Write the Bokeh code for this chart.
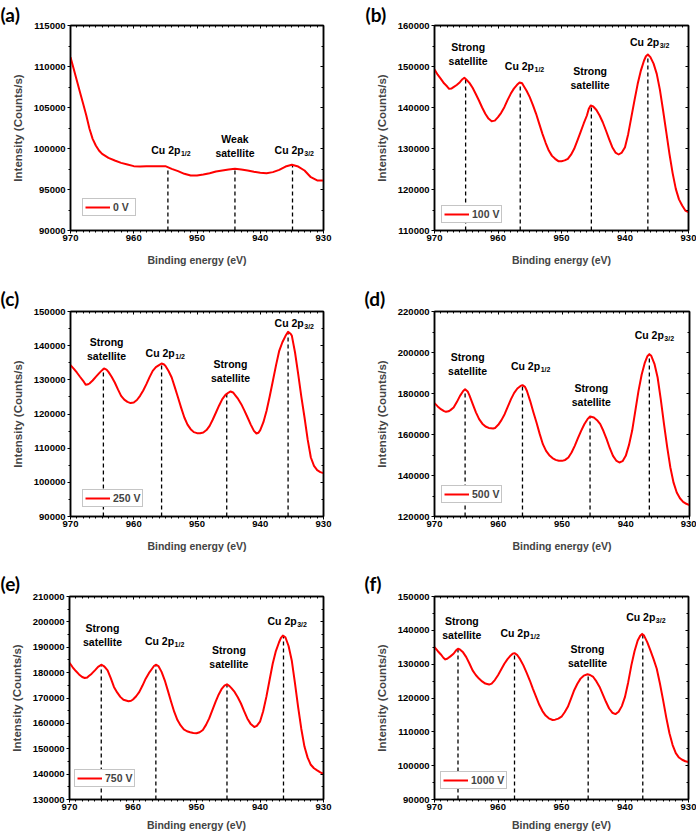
from bokeh.plotting import figure
from bokeh.layouts import column, row
from bokeh.models import Range1d, FixedTicker, LinearAxis, BasicTickFormatter
from bokeh.core.properties import value
from bokeh.embed import file_html
from bokeh.resources import INLINE

# ---------------- data ----------------
x_ticks = [970, 960, 950, 940, 930]
x_minor = list(range(930, 971))

# (a) 0 V
energy_a = [970, 969.5, 969, 968.5, 968, 967.5, 967, 966.5, 966, 965.5, 965, 964, 963, 962, 961, 960,
            959, 958, 957, 956, 955, 954, 953, 952, 951, 950, 949, 948, 947, 946, 945, 944, 943, 942,
            941, 940, 939, 938, 937, 936, 935, 934, 933, 932, 931, 930]
intensity_a = [111140, 109720, 108290, 106870, 105450, 104020, 102400, 101180, 100370, 99760, 99350,
               98860, 98540, 98250, 98050, 97850, 97800, 97850, 97850, 97850, 97850, 97520, 97240,
               96910, 96710, 96710, 96830, 96990, 97200, 97320, 97440, 97520, 97440, 97320, 97160,
               97030, 96990, 97120, 97400, 97800, 98010, 97800, 97320, 96500, 96100, 96100]
peak_e_a = [954.6, 944.0, 934.9]
peak_i_a = [97700, 97500, 98000]
yticks_a = [90000, 95000, 100000, 105000, 110000, 115000]

# (b) 100 V
energy_b = [970, 969.5, 969, 968.5, 968, 967.7, 967.3, 967, 966.5, 966, 965.6, 965.3, 965, 964.5, 964,
            963.5, 963, 962.5, 962, 961.5, 961, 960.5, 960, 959.5, 959, 958.5, 958, 957.5, 957, 956.6,
            956.2, 956, 955.5, 955, 954.5, 954, 953.5, 953, 952.5, 952, 951.5, 951, 950.5, 950, 949.5,
            949, 948.5, 948, 947.5, 947, 946.5, 946, 945.7, 945.4, 945, 944.5, 944, 943.5, 943, 942.5,
            942, 941.5, 941, 940.5, 940, 939.5, 939, 938.5, 938, 937.5, 937, 936.7, 936.4, 936, 935.5,
            935, 934.5, 934, 933.5, 933, 932.5, 932, 931.5, 931, 930.5, 930]
intensity_b = [149270, 148000, 147000, 145900, 145120, 144550, 144650, 144960, 145500, 146180, 146900,
               147240, 146830, 146000, 144800, 143300, 141700, 140000, 138460, 137300, 136670, 136800,
               137640, 138700, 140080, 141800, 143330, 144600, 145530, 146100, 145900, 145370, 144100,
               142520, 140600, 138460, 136000, 133580, 131400, 129510, 128200, 127480, 126910, 126910,
               127100, 127480, 128500, 129920, 131900, 134000, 136100, 138050, 139700, 140490, 140240,
               139400, 138050, 136400, 134390, 132300, 130330, 129000, 128540, 129000, 130330, 133500,
               137640, 141800, 145770, 149000, 151460, 152500, 152930, 152280, 150700, 148210, 144300,
               139270, 134000, 128700, 124000, 120160, 117600, 116100, 114880, 114470]
peak_e_b = [965.1, 956.5, 945.3, 936.4]
peak_i_b = [147200, 146100, 140500, 152900]
yticks_b = [110000, 120000, 130000, 140000, 150000, 160000]

# (c) 250 V
energy_c = [970, 969.5, 969, 968.5, 968, 967.6, 967.2, 967, 966.5, 966, 965.5, 965, 964.7, 964.3, 964,
            963.5, 963, 962.5, 962, 961.5, 961, 960.5, 960, 959.5, 959, 958.5, 958, 957.5, 957, 956.5,
            956, 955.6, 955.2, 955, 954.5, 954, 953.5, 953, 952.5, 952, 951.5, 951, 950.5, 950, 949.5,
            949, 948.5, 948, 947.5, 947, 946.5, 946, 945.5, 945, 944.7, 944.3, 944, 943.5, 943, 942.5,
            942, 941.5, 941, 940.6, 940.3, 940, 939.5, 939, 938.5, 938, 937.5, 937, 936.5, 936, 935.6,
            935.2, 935, 934.5, 934, 933.5, 933, 932.5, 932, 931.5, 931, 930.5, 930]
intensity_c = [134290, 133300, 132150, 130900, 129710, 128540, 128700, 128930, 129800, 130880, 131900,
               132830, 133320, 133000, 132340, 130900, 129220, 127200, 125320, 124200, 123560, 123200,
               123370, 124100, 125320, 126900, 128730, 130800, 132630, 133700, 134290, 134780, 134500,
               134100, 132600, 130680, 127800, 124830, 121800, 118980, 116900, 115560, 114700, 114390,
               114390, 114590, 115300, 116540, 118400, 120440, 122500, 124340, 125600, 126290, 126590,
               126300, 125610, 124400, 122880, 121000, 118980, 116900, 115070, 114290, 114500, 115270,
               117600, 120930, 125200, 129710, 134300, 138490, 141000, 142880, 144050, 143500, 142880,
               138000, 131660, 125000, 118980, 112500, 107270, 104800, 103560, 103000, 102680]
peak_e_c = [964.8, 955.6, 945.3, 935.6]
peak_i_c = [133300, 134800, 126500, 144000]
yticks_c = [90000, 100000, 110000, 120000, 130000, 140000, 150000]

# (d) 500 V
energy_d = [970, 969.5, 969, 968.5, 968.2, 967.8, 967.5, 967, 966.5, 966, 965.5, 965.2, 964.8, 964.5,
            964, 963.5, 963, 962.5, 962, 961.5, 960.8, 960.5, 960, 959.5, 959, 958.5, 958, 957.5, 957,
            956.5, 956.2, 955.8, 955.5, 955, 954.5, 954, 953.5, 953, 952.5, 952, 951.5, 951, 950.5, 950,
            949.5, 949, 948.5, 948, 947.5, 947, 946.5, 946, 945.6, 945, 944.5, 944, 943.5, 943, 942.5,
            942, 941.5, 941, 940.5, 940, 939.5, 939, 938.5, 938, 937.5, 937, 936.6, 936.3, 936, 935.5,
            935, 934.5, 934, 933.5, 933, 932.5, 932, 931.5, 931, 930.5, 930]
intensity_d = [175280, 173700, 172360, 171400, 171060, 171300, 171900, 173170, 175800, 178860, 181200,
               182110, 181000, 179000, 174800, 170800, 167480, 165300, 163900, 163200, 162930, 163200,
               164720, 167000, 169920, 173600, 177240, 180300, 182440, 183700, 184070, 183200, 181200,
               176420, 171000, 165850, 160300, 155280, 152000, 149920, 148500, 147640, 147200, 147150,
               147600, 148780, 151200, 154470, 158200, 161790, 165000, 167480, 168780, 168290, 167000,
               165040, 161700, 157720, 153300, 149590, 147300, 146340, 147000, 149590, 154800, 161790,
               171500, 181300, 189300, 195120, 198200, 199190, 198370, 194500, 187800, 177000, 165040,
               153800, 143900, 136500, 131710, 128900, 127160, 126200, 125530]
peak_e_d = [965.2, 956.2, 945.6, 936.3]
peak_i_d = [182100, 184100, 168800, 199200]
yticks_d = [120000, 140000, 160000, 180000, 200000, 220000]

# (e) 750 V
energy_e = [970, 969.5, 969, 968.5, 968, 967.6, 967.2, 967, 966.5, 966, 965.5, 965, 964.6, 964.3, 964,
            963.5, 963, 962.5, 962, 961.5, 960.7, 960.3, 960, 959.5, 959, 958.5, 958, 957.5, 957, 956.7,
            956.4, 956, 955.5, 955, 954.5, 954, 953.5, 953, 952.5, 952, 951.5, 951, 950.5, 950, 949.5,
            949, 948.5, 948, 947.5, 947, 946.5, 946, 945.6, 945.2, 944.8, 944.5, 944, 943.5, 943, 942.5,
            942, 941.5, 940.9, 940.5, 940, 939.5, 939, 938.5, 938, 937.5, 937, 936.7, 936.4, 936, 935.5,
            935, 934.5, 934, 933.5, 933, 932.5, 932, 931.5, 931, 930.5, 930]
intensity_e = [183890, 182100, 180630, 179300, 178280, 177890, 178100, 178540, 179600, 180890, 182300,
               183110, 182600, 181800, 180890, 177800, 174360, 172200, 170440, 169300, 168750, 168900,
               169400, 170700, 172400, 174900, 177620, 179800, 181540, 182600, 183110, 182590, 180300,
               176970, 172800, 168490, 164500, 161310, 159200, 157660, 156900, 156480, 156200, 156090,
               156500, 157390, 159400, 161960, 165200, 168490, 171400, 173710, 174900, 175410, 174700,
               173900, 172400, 170300, 167830, 164800, 161960, 159900, 158570, 159000, 160650, 164800,
               170440, 177000, 183500, 188500, 191980, 193700, 194590, 193940, 190500, 184800, 176000,
               166530, 157900, 150860, 146500, 143680, 142300, 141460, 140700, 140160]
peak_e_e = [965.0, 956.4, 945.2, 936.3]
peak_i_e = [183100, 183100, 175400, 194600]
yticks_e = [130000, 140000, 150000, 160000, 170000, 180000, 190000, 200000, 210000]

# (f) 1000 V
energy_f = [970, 969.5, 969, 968.6, 968.3, 968, 967.5, 967, 966.6, 966.3, 966, 965.5, 965, 964.5, 964,
            963.5, 963, 962.5, 962, 961.4, 961, 960.5, 960, 959.5, 959, 958.5, 958, 957.7, 957.4, 957,
            956.5, 956, 955.5, 955, 954.5, 954, 953.5, 953, 952.5, 952, 951.4, 951, 950.5, 950, 949.5,
            949, 948.5, 948, 947.5, 947, 946.5, 945.9, 945.5, 945, 944.5, 944, 943.5, 943, 942.5, 942,
            941.5, 941, 940.5, 940, 939.5, 939, 938.5, 938, 937.6, 937.3, 937, 936.5, 936, 935.5, 935,
            934.5, 934, 933.5, 933, 932.5, 932, 931.5, 931, 930.5, 930]
intensity_f = [135020, 133900, 132870, 131900, 131400, 131600, 132300, 133070, 134100, 134540, 134340,
               133500, 132090, 130200, 128170, 126800, 125730, 124900, 124260, 123970, 124260, 125300,
               126710, 128400, 130130, 131500, 132580, 133100, 133260, 132770, 131400, 129640, 127500,
               125240, 122700, 120340, 118000, 116140, 114800, 113980, 113490, 113600, 113900, 114470,
               115800, 117410, 119800, 122300, 124200, 125730, 126600, 127000, 126800, 126220, 124900,
               123280, 121100, 118880, 116900, 115650, 115250, 115940, 117600, 120340, 124600, 129640,
               133800, 136980, 138400, 138940, 138450, 136500, 134050, 131500, 128660, 124300, 119360,
               114200, 109580, 106100, 103710, 102400, 101750, 101300, 101060]
peak_e_f = [966.3, 957.4, 945.8, 937.2]
peak_i_f = [134500, 133300, 127000, 138900]
yticks_f = [90000, 100000, 110000, 120000, 130000, 140000, 150000]

legend_labels = ["0 V", "100 V", "250 V", "500 V", "750 V", "1000 V"]
panel_letters = ["(a)", "(b)", "(c)", "(d)", "(e)", "(f)"]

# annotation anchors: (kind, energy, intensity)
annots_a = [("p12", 954.2, 99760), ("weak", 944.0, 100280), ("p32", 934.7, 99760)]
annots_b = [("sat", 964.7, 152960), ("p12", 955.9, 150240), ("sat", 945.5, 147100), ("p32", 936.2, 155930)]
annots_c = [("sat", 964.3, 138980), ("p12", 955.1, 138000), ("sat", 944.7, 132440), ("p32", 934.7, 146780)]
annots_d = [("sat", 964.8, 194150), ("p12", 955.0, 193500), ("sat", 945.4, 179350), ("p32", 935.6, 208620)]
annots_e = [("sat", 964.8, 194860), ("p12", 955.1, 192380), ("sat", 944.9, 186110), ("p32", 935.8, 200210)]
annots_f = [("sat", 965.7, 140650), ("p12", 956.6, 139140), ("sat", 945.9, 132480), ("p32", 936.8, 143830)]

# ---------------- styling / layout ----------------
AX_FONT = "Liberation Sans"
LETTER_FONT = "Lato"
RED = "#ff0000"

# W, H, L, R, T, B, legend offset (x, y), letter x, letter standoff, x-title standoff
GEO = [
    (347, 275, 70, 24, 25, 45, (12, 14), 0, 0, 10),
    (349, 275, 87, 8, 25, 45, (7, 7), 18, 0, 10),
    (347, 280, 70, 24, 36, 39, (12, 9), 0, 3, 10),
    (349, 280, 87, 7, 36, 39, (7, 13), 17, 3, 10),
    (347, 278, 69, 24, 41, 33, (5, 12), 0, 3, 6),
    (349, 278, 87, 8, 41, 33, (6, 10), 17, 3, 6),
]


def style_axis(ax, font_size):
    ax.axis_line_color = "black"
    ax.axis_line_width = 1.5
    ax.major_tick_line_color = "black"
    ax.minor_tick_line_color = "black"
    ax.major_tick_line_width = 1
    ax.minor_tick_line_width = 1
    ax.major_label_text_font = AX_FONT
    ax.major_label_text_font_style = "bold"
    ax.major_label_text_font_size = font_size
    ax.major_label_text_color = "black"


def make_panel(i, energy, intensity, peak_e, peak_i, yticks, annots):
    W, H, L, R, T, B, (lx, ly), tx, tstand, xstand = GEO[i]
    ymin, ymax = yticks[0], yticks[-1]
    ystep = yticks[1] - yticks[0]
    y_minor = [yticks[0] + ystep / 2 * k for k in range(2 * (len(yticks) - 1) + 1)]

    p = figure(width=W, height=H, min_border_left=L, min_border_right=R,
               min_border_top=T, min_border_bottom=B,
               x_range=Range1d(970, 930), y_range=Range1d(ymin, ymax),
               output_backend="svg", toolbar_location=None, tools="")
    p.xgrid.visible = False
    p.ygrid.visible = False
    p.outline_line_color = "black"
    p.outline_line_width = 1.5
    p.background_fill_color = "white"
    p.border_fill_color = "white"

    # panel letter as the plot title
    p.title.text = panel_letters[i]
    p.title.align = "left"
    p.title.offset = tx - L
    p.title.standoff = tstand
    p.title.text_font = LETTER_FONT
    p.title.text_font_style = "bold"
    p.title.text_font_size = "19px"
    p.title.text_color = "black"

    xt = FixedTicker(ticks=x_ticks, minor_ticks=x_minor)
    yt = FixedTicker(ticks=yticks, minor_ticks=y_minor)

    xa = p.xaxis[0]
    xa.ticker = xt
    style_axis(xa, "9.5px")
    xa.major_tick_out = 3
    xa.major_tick_in = 0
    xa.minor_tick_out = 2
    xa.minor_tick_in = 0
    xa.major_label_standoff = 1
    xa.axis_label = "Binding energy (eV)"
    xa.axis_label_text_font = AX_FONT
    xa.axis_label_text_font_style = "bold"
    xa.axis_label_text_font_size = "10.5px"
    xa.axis_label_standoff = xstand

    ya = p.yaxis[0]
    ya.ticker = yt
    ya.formatter = BasicTickFormatter(use_scientific=False)
    style_axis(ya, "9.5px")
    ya.major_tick_out = 3
    ya.major_tick_in = 0
    ya.minor_tick_out = 2
    ya.minor_tick_in = 0
    ya.major_label_standoff = 2
    ya.axis_label = "Intensity (Counts/s)"
    ya.axis_label_text_font = AX_FONT
    ya.axis_label_text_font_style = "bold"
    ya.axis_label_text_font_size = "11.5px"
    ya.axis_label_standoff = 7

    # mirrored tick marks on top / right (no labels drawn)
    for side, tk in (("above", xt), ("right", yt)):
        ax = LinearAxis(ticker=tk)
        style_axis(ax, "0px")
        ax.major_label_text_color = None
        ax.major_label_text_alpha = 0
        ax.major_tick_in = 3
        ax.major_tick_out = 0
        ax.minor_tick_in = 2
        ax.minor_tick_out = 0
        ax.major_label_standoff = 0
        p.add_layout(ax, side)

    # dashed peak markers
    p.segment(x0=peak_e, y0=[ymin] * len(peak_e), x1=peak_e, y1=peak_i,
              line_color="black", line_width=1.3, line_dash="4 3")

    # spectrum
    p.line(energy, intensity, line_color=RED, line_width=2, line_join="round",
           legend_label=legend_labels[i])

    # annotations
    font = value(AX_FONT)
    style = value("bold")
    main_size = value("10.5px")
    sub_size = value("7px")
    for kind, ex, iy in annots:
        if kind in ("sat", "weak"):
            first = "Strong" if kind == "sat" else "Weak"
            p.text(x=[ex, ex], y=[iy, iy], text=[first, "satellite"],
                   y_offset=[-7, 7], text_font=font, text_font_style=style,
                   text_font_size=main_size, text_align=value("center"),
                   text_baseline=value("middle"), text_color="black")
        else:
            sub = "1/2" if kind == "p12" else "3/2"
            p.text(x=[ex], y=[iy], text=["Cu 2p"], x_offset=10, text_font=font,
                   text_font_style=style, text_font_size=main_size,
                   text_align=value("right"), text_baseline=value("middle"), text_color="black")
            p.text(x=[ex], y=[iy], text=[sub], x_offset=10.5, y_offset=3.5, text_font=font,
                   text_font_style=style, text_font_size=sub_size,
                   text_align=value("left"), text_baseline=value("middle"), text_color="black")

    lg = p.legend[0]
    lg.location = (lx, ly)
    lg.label_text_font = AX_FONT
    lg.label_text_font_style = "bold"
    lg.label_text_font_size = "10.5px"
    lg.glyph_width = 25
    lg.glyph_height = 10
    lg.label_height = 10
    lg.label_standoff = 3
    lg.padding = 2
    lg.spacing = 0
    lg.margin = 0
    lg.border_line_color = "#8c8c8c"
    lg.border_line_width = 1
    lg.background_fill_color = "white"
    lg.background_fill_alpha = 1
    return p


pa = make_panel(0, energy_a, intensity_a, peak_e_a, peak_i_a, yticks_a, annots_a)
pb = make_panel(1, energy_b, intensity_b, peak_e_b, peak_i_b, yticks_b, annots_b)
pc = make_panel(2, energy_c, intensity_c, peak_e_c, peak_i_c, yticks_c, annots_c)
pd = make_panel(3, energy_d, intensity_d, peak_e_d, peak_i_d, yticks_d, annots_d)
pe = make_panel(4, energy_e, intensity_e, peak_e_e, peak_i_e, yticks_e, annots_e)
pf = make_panel(5, energy_f, intensity_f, peak_e_f, peak_i_f, yticks_f, annots_f)

layout = column(row(pa, pb), row(pc, pd), row(pe, pf))

open("out.html", "w").write(file_html(layout, INLINE))
